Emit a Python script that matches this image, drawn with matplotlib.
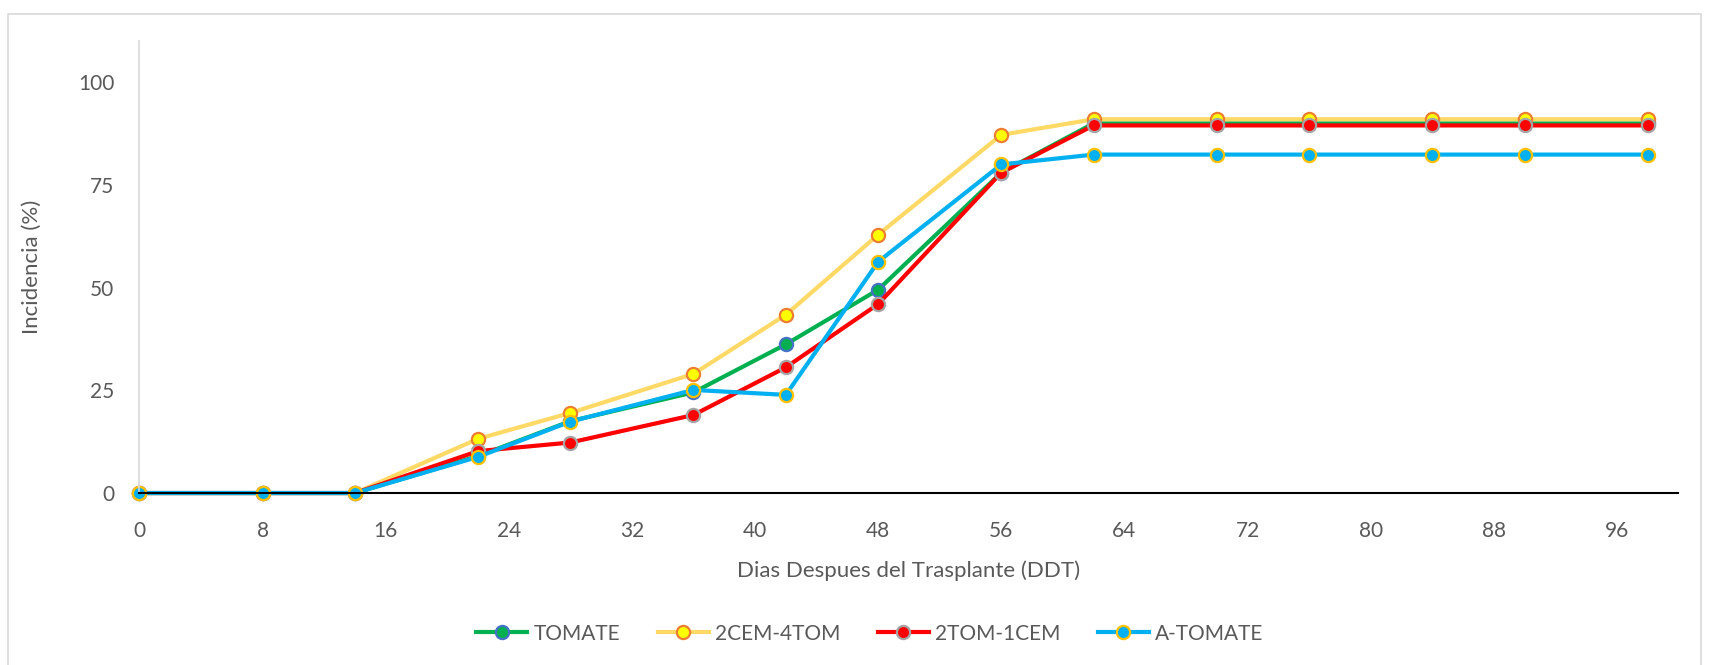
import matplotlib
matplotlib.use('Agg')
from matplotlib import pyplot as plt
from matplotlib.patches import Rectangle

DAYS = [0, 8, 14, 22, 28, 36, 42, 48, 56, 62, 70, 76, 84, 90, 98]
TOMATE = [0, 0, 0, 9.0, 17.5, 24.5, 36.2, 49.5, 78.0, 90.0, 90.0, 90.0, 90.0, 90.0, 90.0]
CEM2_TOM4 = [0, 0, 0, 13.2, 19.5, 29.0, 43.4, 62.9, 87.2, 91.0, 91.0, 91.0, 91.0, 91.0, 91.0]
TOM2_CEM1 = [0, 0, 0, 10.2, 12.3, 19.0, 30.6, 46.0, 78.0, 89.5, 89.5, 89.5, 89.5, 89.5, 89.5]
A_TOMATE = [0, 0, 0, 8.8, 17.4, 25.1, 23.9, 56.3, 80.0, 82.4, 82.4, 82.4, 82.4, 82.4, 82.4]

SERIES = [
    ('TOMATE', TOMATE, '#00B050', '#00B050', '#4472C4'),
    ('2CEM-4TOM', CEM2_TOM4, '#FFD966', '#FFFF00', '#ED7D31'),
    ('2TOM-1CEM', TOM2_CEM1, '#FF0000', '#FF0000', '#A5A5A5'),
    ('A-TOMATE', A_TOMATE, '#00B0F0', '#00B0F0', '#FFC000'),
]

TEXT_COLOR = '#595959'


def main():
    plt.rcParams['font.family'] = ['Lato', 'DejaVu Sans']
    fig = plt.figure(figsize=(17.09, 6.65), dpi=100)
    ax = fig.add_axes([0.0816, 0.2586, 0.9005, 0.6794])

    # chart frame
    fig.patches.append(Rectangle((8 / 1709, -0.1), 1693 / 1709, 1.1 - 14 / 665,
                                 transform=fig.transFigure, fill=False,
                                 edgecolor='#D9D9D9', linewidth=1.2))

    for name, vals, line_c, face_c, edge_c in SERIES:
        ax.plot(DAYS, vals, color=line_c, linewidth=3, marker='o', markersize=9.5,
                markerfacecolor=face_c, markeredgecolor=edge_c, markeredgewidth=1.6,
                label=name, clip_on=False)

    ax.set_xlim(0, 100)
    ax.set_ylim(0, 110)
    ax.set_xticks(range(0, 97, 8))
    ax.set_yticks([0, 25, 50, 75, 100])
    ax.tick_params(length=0, labelsize=15, labelcolor=TEXT_COLOR)
    ax.tick_params(axis='x', pad=20)
    ax.tick_params(axis='y', pad=18)

    for side in ('top', 'right'):
        ax.spines[side].set_visible(False)
    ax.spines['left'].set_color('#D9D9D9')
    ax.spines['left'].set_linewidth(1.2)
    ax.spines['bottom'].set_color('#000000')
    ax.spines['bottom'].set_linewidth(1.5)

    ax.set_xlabel('Dias Despues del Trasplante (DDT)', fontsize=16, color=TEXT_COLOR, labelpad=14)
    ax.set_ylabel('Incidencia (%)', fontsize=16, color=TEXT_COLOR, labelpad=26)

    leg = fig.legend(loc='center', bbox_to_anchor=(0.509, 0.047), ncol=4, frameon=False,
                     fontsize=15, handlelength=2.45, handletextpad=0.3, columnspacing=1.8)
    for t in leg.get_texts():
        t.set_color(TEXT_COLOR)

    fig.savefig('out.png', dpi=100)


if __name__ == '__main__':
    main()
